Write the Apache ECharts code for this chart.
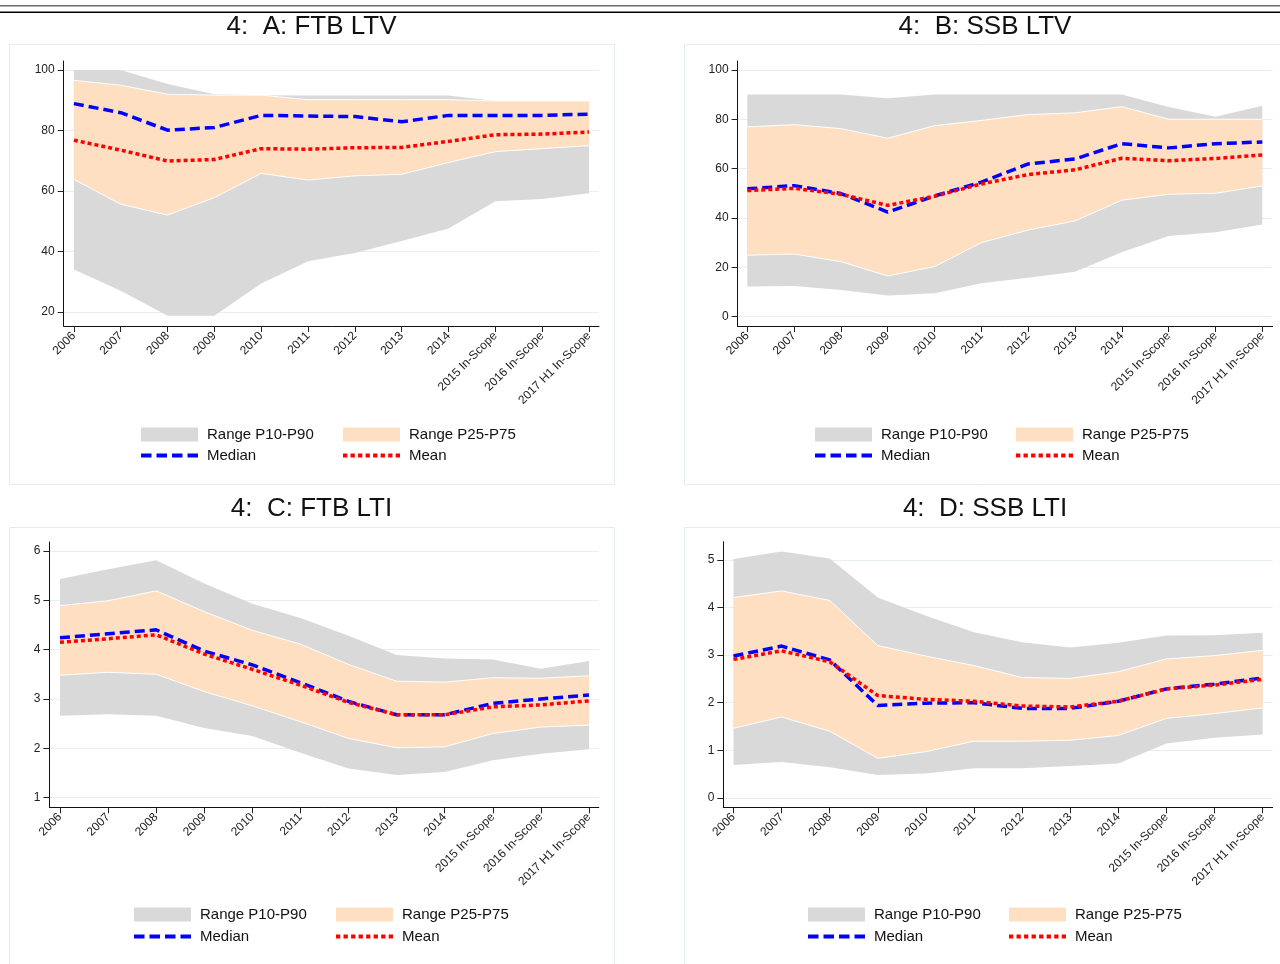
<!DOCTYPE html>
<html><head><meta charset="utf-8">
<script src="https://cdn.jsdelivr.net/npm/echarts@6/dist/echarts.min.js"></script>
<style>html,body{margin:0;padding:0;background:#fff}#c{width:1280px;height:964px}</style>
</head><body><div id="c"></div>
<script>
// ---- Data ----
const categories = ['2006','2007','2008','2009','2010','2011','2012','2013','2014','2015 In-Scope','2016 In-Scope','2017 H1 In-Scope'];
const xTicks = [0,1,2,3,4,5,6,7,8,9,10,11];

const yTicksA = [20,40,60,80,100];
const yTicksB = [0,20,40,60,80,100];
const yTicksC = [1,2,3,4,5,6];
const yTicksD = [0,1,2,3,4,5];

// Panel A: FTB LTV
const p90A  = [100,100,95.4,92,91.7,91.6,91.6,91.6,91.6,89.8,89.8,89.8];
const p75A  = [96.6,95,92,91.7,91.7,90.2,90.2,90.2,90.2,89.8,89.8,89.8];
const medA  = [88.9,85.9,80.1,81,85,84.8,84.6,82.9,85,85,85,85.4];
const meanA = [76.8,73.5,69.9,70.4,74,73.8,74.3,74.4,76.4,78.6,78.8,79.5];
const p25A  = [63.8,55.6,52,57.8,65.8,63.6,65,65.5,69.4,73,74,75];
const p10A  = [34,27,18.7,18.7,29.4,36.7,39.5,43.4,47.6,56.6,57.3,59.2];

// Panel B: SSB LTV
const p90B  = [90,90,90,88.5,90,90,90,90,90,85,81,85.5];
const p75B  = [76.9,77.8,76.2,72.3,77.4,79.5,81.9,82.6,85.1,80,80,80];
const medB  = [51.8,53.1,49.9,42.4,48.9,54.5,61.9,63.9,70.1,68.4,70.1,70.8];
const meanB = [51.1,52,49.6,45.1,48.8,53.8,57.6,59.5,64.2,63.2,64.1,65.5];
const p25B  = [24.9,25.4,22.3,16.5,20.3,30,35.1,38.8,47.2,49.6,50,53];
const p10B  = [12.2,12.4,10.8,8.6,9.5,13.6,15.8,18.2,26.1,32.7,34.2,37.4];

// Panel C: FTB LTI
const p90C  = [5.43,5.63,5.81,5.34,4.93,4.64,4.28,3.89,3.82,3.80,3.61,3.77];
const p75C  = [4.89,4.99,5.19,4.77,4.39,4.11,3.70,3.36,3.34,3.43,3.42,3.47];
const medC  = [4.24,4.32,4.40,3.97,3.69,3.33,2.95,2.68,2.68,2.91,3.00,3.08];
const meanC = [4.15,4.22,4.30,3.91,3.60,3.28,2.93,2.68,2.68,2.84,2.88,2.96];
const p25C  = [3.48,3.54,3.50,3.15,2.86,2.54,2.20,2.01,2.03,2.30,2.43,2.47];
const p10C  = [2.66,2.69,2.66,2.41,2.25,1.91,1.59,1.46,1.52,1.76,1.89,1.98];

// Panel D: SSB LTI
const p90D  = [5.02,5.18,5.03,4.21,3.83,3.48,3.27,3.16,3.26,3.41,3.42,3.47];
const p75D  = [4.21,4.35,4.15,3.20,2.98,2.78,2.53,2.51,2.65,2.92,2.99,3.10];
const medD  = [2.98,3.19,2.90,1.94,1.99,2.00,1.88,1.88,2.03,2.29,2.39,2.52];
const meanD = [2.91,3.09,2.86,2.15,2.07,2.03,1.93,1.91,2.03,2.29,2.37,2.49];
const p25D  = [1.46,1.70,1.40,0.83,0.97,1.19,1.19,1.21,1.31,1.67,1.77,1.89];
const p10D  = [0.69,0.75,0.64,0.48,0.51,0.62,0.62,0.67,0.72,1.14,1.26,1.33];

const titles = ['4:  A: FTB LTV','4:  B: SSB LTV','4:  C: FTB LTI','4:  D: SSB LTI'];
const legendNames = ['Range P10-P90','Range P25-P75','Median','Mean'];

// ---- Styles / layout ----
const GRAY = '#d9d9d9', ORANGE = '#fedfc1', BLUE = '#0000ff', RED = '#ff0000';
const GRIDLINE = '#e6eff1', FRAME = '#e3edf0', FONT = 'Liberation Sans, Arial, sans-serif';

const panels = [
  {p10:p10A,p25:p25A,med:medA,mean:meanA,p75:p75A,p90:p90A,yTicks:yTicksA,
   grid:{left:63.7,top:61,width:535.3,height:265}, xr:[-0.218,11.214], yr:[15.3,103],
   tx:311.5, ty:27, lx:[141,343], ly:[434.5,455.5], frame:[9,44,605,440]},
  {p10:p10B,p25:p25B,med:medB,mean:meanB,p75:p75B,p90:p90B,yTicks:yTicksB,
   grid:{left:737.6,top:61,width:535,height:265}, xr:[-0.207,11.22], yr:[-3.77,103.6],
   tx:985, ty:27, lx:[815,1016], ly:[434.5,455.5], frame:[684,44,620,440]},
  {p10:p10C,p25:p25C,med:medC,mean:meanC,p75:p75C,p90:p90C,yTicks:yTicksC,
   grid:{left:49.4,top:542,width:549.4,height:265.3}, xr:[-0.22,11.204], yr:[0.805,6.18],
   tx:311.5, ty:508.5, lx:[134,336], ly:[914.5,936.5], frame:[9,527,605,460]},
  {p10:p10D,p25:p25D,med:medD,mean:meanD,p75:p75D,p90:p90D,yTicks:yTicksD,
   grid:{left:723.3,top:541.7,width:549.4,height:265.6}, xr:[-0.212,11.21], yr:[-0.2,5.385],
   tx:985, ty:508.5, lx:[808,1009], ly:[914.5,936.5], frame:[684,527,620,460]}
];

const xy = arr => arr.map((v,i)=>[i,v]);
const band = (lo,hi) => lo.map((v,i)=>[i, v, hi[i]]);

// band renderer: one polygon through all rows, positions from the axis scales
function bandRenderer(rows, fill, edge){
  return function(params, api){
    if (params.dataIndex !== 0) return null;
    const top = rows.map(r => api.coord([r[0], r[2]]));
    const bot = rows.map(r => api.coord([r[0], r[1]]));
    const pts = top.concat(bot.slice().reverse());
    const children = [{type:'polygon', shape:{points:pts}, style:{fill:fill, stroke:null}}];
    if (edge) {
      children.push({type:'polyline', shape:{points:top}, style:{fill:null, stroke:edge, lineWidth:1}});
      children.push({type:'polyline', shape:{points:bot}, style:{fill:null, stroke:edge, lineWidth:1}});
    }
    return {type:'group', children:children};
  };
}

// legend icon shapes (not data)
function dashPath(){ let s='path://'; const w=10.5,g=5; for(let k=0;k<4;k++){const x=k*(w+g); s+=`M${x} 0L${x+w} 0L${x+w} 4L${x} 4Z`;} return s; }
function dotPath(){ let s='path://'; const w=4.3,g=3.24; for(let k=0;k<8;k++){const x=+(k*(w+g)).toFixed(2); s+=`M${x} 0L${(x+w).toFixed(2)} 0L${(x+w).toFixed(2)} 4L${x} 4Z`;} return s; }

const grids=[], xAxes=[], yAxes=[], series=[], legends=[], graphics=[];

graphics.push({type:'line', shape:{x1:0,y1:5.7,x2:1280,y2:5.7}, style:{stroke:'#6a6a6a', lineWidth:1.6}, silent:true});
graphics.push({type:'line', shape:{x1:0,y1:12.3,x2:1280,y2:12.3}, style:{stroke:'#000', lineWidth:1.6}, silent:true});

panels.forEach((p,k)=>{
  grids.push(Object.assign({containLabel:false, outerBoundsMode:'none'}, p.grid));
  xAxes.push({type:'value', gridIndex:k, min:p.xr[0], max:p.xr[1],
    axisLine:{show:true, onZero:false, lineStyle:{color:'#111', width:1}},
    axisTick:{show:true, length:6, lineStyle:{color:'#222'}, customValues:xTicks},
    axisLabel:{customValues:xTicks, rotate:45, margin:8, fontSize:12, color:'#222', fontFamily:FONT,
      formatter:v=>categories[Math.round(v)]},
    splitLine:{show:false}});
  yAxes.push({type:'value', gridIndex:k, min:p.yr[0], max:p.yr[1],
    axisLine:{show:true, onZero:false, lineStyle:{color:'#111', width:1}},
    axisTick:{show:true, length:6, lineStyle:{color:'#222'}, customValues:p.yTicks},
    axisLabel:{customValues:p.yTicks, margin:9, fontSize:12, color:'#222', fontFamily:FONT},
    splitLine:{show:true, lineStyle:{color:GRIDLINE, width:1.2}}});

  const outer = band(p.p10, p.p90), inner = band(p.p25, p.p75);
  series.push({type:'custom', name:legendNames[0], xAxisIndex:k, yAxisIndex:k, data:outer,
    encode:{x:0, y:[1,2]}, renderItem:bandRenderer(outer, GRAY, null), itemStyle:{color:GRAY}, color:GRAY,
    silent:true, animation:false, z:1, clip:true});
  series.push({type:'custom', name:legendNames[1], xAxisIndex:k, yAxisIndex:k, data:inner,
    encode:{x:0, y:[1,2]}, renderItem:bandRenderer(inner, ORANGE, '#ffffff'), itemStyle:{color:ORANGE}, color:ORANGE,
    silent:true, animation:false, z:2, clip:true});
  const common = {xAxisIndex:k, yAxisIndex:k, symbol:'none', silent:true, animation:false};
  series.push(Object.assign({type:'line', name:legendNames[2], data:xy(p.med),
    color:BLUE, lineStyle:{color:BLUE, width:3.5, type:[10,5], cap:'butt'}, z:5}, common));
  series.push(Object.assign({type:'line', name:legendNames[3], data:xy(p.mean),
    color:RED, lineStyle:{color:RED, width:3.5, type:[4,3], cap:'butt'}, z:6}, common));

  const legendBase = {orient:'horizontal', padding:0, selectedMode:false, itemGap:0,
    itemStyle:{borderWidth:0}, textStyle:{fontSize:15, color:'#111', fontFamily:FONT, padding:[0,0,0,4]}};
  const items = [
    {name:legendNames[0], icon:'rect', itemStyle:{color:GRAY, borderWidth:0}, w:57, h:14, x:p.lx[0], y:p.ly[0]},
    {name:legendNames[1], icon:'rect', itemStyle:{color:ORANGE, borderWidth:0}, w:57, h:14, x:p.lx[1], y:p.ly[0]},
    {name:legendNames[2], icon:dashPath(), itemStyle:{color:BLUE, borderWidth:0}, w:57, h:4, x:p.lx[0], y:p.ly[1]},
    {name:legendNames[3], icon:dotPath(), itemStyle:{color:RED, borderWidth:0}, w:57, h:4, x:p.lx[1], y:p.ly[1]}
  ];
  items.forEach(it=>{
    legends.push(Object.assign({}, legendBase, {left:it.x, top:it.y-7.5, itemWidth:it.w, itemHeight:it.h,
      data:[{name:it.name, icon:it.icon, itemStyle:it.itemStyle}]}));
  });

  graphics.push({type:'rect', shape:{x:p.frame[0]+0.5,y:p.frame[1]+0.5,width:p.frame[2],height:p.frame[3]},
    style:{fill:null, stroke:FRAME, lineWidth:1}, silent:true, z:-10});
  graphics.push({type:'text', x:p.tx, y:p.ty, style:{text:titles[k], fontSize:26, fontFamily:FONT, fill:'#111',
    textAlign:'center', textVerticalAlign:'middle'}, silent:true});
});

const chart = echarts.init(document.getElementById('c'), null, {renderer:'canvas'});
chart.setOption({
  animation:false, backgroundColor:'#fff',
  grid:grids, xAxis:xAxes, yAxis:yAxes, series:series, legend:legends, graphic:graphics
});
</script></body></html>
